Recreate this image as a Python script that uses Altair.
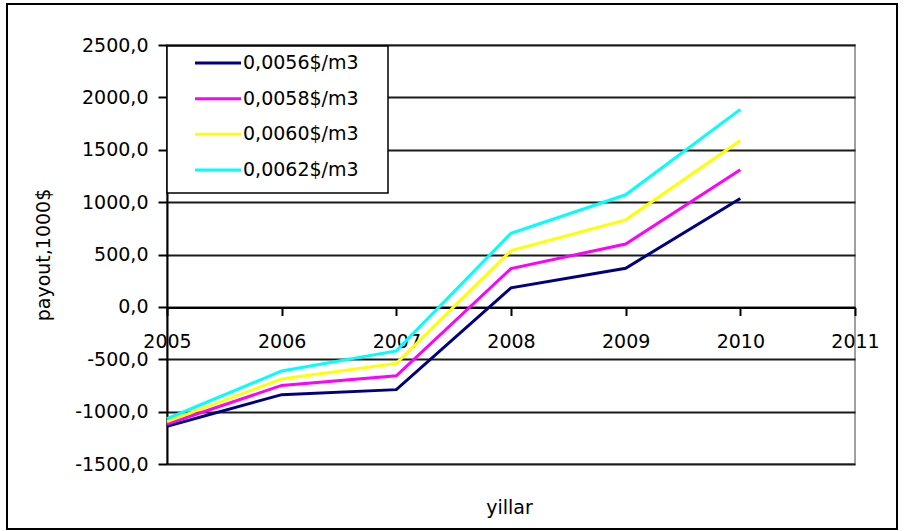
import altair as alt
import pandas as pd

# Cumulative payout (thousand $) by year for four unit prices
years = [2005, 2006, 2007, 2008, 2009, 2010]
p0056 = [-1140, -838, -790, 182, 369, 1035]
p0058 = [-1118, -750, -658, 366, 600, 1310]
p0060 = [-1095, -688, -540, 537, 831, 1588]
p0062 = [-1068, -612, -420, 703, 1070, 1885]

series_labels = ["0,0056$/m3", "0,0058$/m3", "0,0060$/m3", "0,0062$/m3"]
series_colors = ["#000080", "#ff00ff", "#ffff00", "#00ffff"]

y_ticks = [-1500, -1000, -500, 0, 500, 1000, 1500, 2000, 2500]
x_ticks = [2005, 2006, 2007, 2008, 2009, 2010, 2011]

FONT = "DejaVu Sans"
FS = 19
W, H = 688, 419

rows = []
for label, vals in zip(series_labels, [p0056, p0058, p0060, p0062]):
    for yr, v in zip(years, vals):
        rows.append({"yil": yr, "payout": v, "series": label})
df = pd.DataFrame(rows)
legend_df = pd.DataFrame({"series": series_labels})

color_scale = alt.Scale(domain=series_labels, range=series_colors)

lines = alt.Chart(df).mark_line(strokeWidth=3).encode(
    x=alt.X(
        "yil:Q",
        scale=alt.Scale(domain=[2005, 2011], nice=False, zero=False),
        axis=alt.Axis(
            values=x_ticks,
            format="d",
            offset=-156.5,
            grid=False,
            domainColor="#000000",
            domainWidth=2,
            tickColor="#000000",
            tickWidth=2,
            tickSize=8,
            labelPadding=17,
            labelFlush=False,
            labelOverlap=False,
            title="yillar",
            titleX=342,
            titleY=199.5,
            titleAnchor="start",
            titleAlign="center",
            titleBaseline="middle",
        ),
    ),
    y=alt.Y(
        "payout:Q",
        scale=alt.Scale(domain=[-1500, 2500], nice=False),
        axis=alt.Axis(
            values=y_ticks,
            # decimal comma and a plain hyphen for negatives
            labelExpr="replace(replace(format(datum.value, '.1f'), '.', ','), '\u2212', '-')",
            grid=True,
            gridColor="#1a1a1a",
            gridWidth=2,
            domainColor="#000000",
            domainWidth=2,
            tickColor="#000000",
            tickWidth=2,
            tickSize=9,
            labelPadding=10,
            title="payout,1000$",
            titleAngle=270,
            titleX=-124,
            titleY=H / 2,
            titleAlign="center",
            titleBaseline="middle",
        ),
    ),
    color=alt.Color("series:N", scale=color_scale, legend=None),
    order=alt.Order("yil:Q"),
)

# Legend box drawn inside the plot's top-left corner
legend_box = alt.Chart(alt.Data(values=[{}])).mark_rect(
    fill="white", stroke="#000000", strokeWidth=1.5
).encode(
    x=alt.value(0), x2=alt.value(221), y=alt.value(1), y2=alt.value(148)
)

legend_y = alt.Y(
    "series:N",
    scale=alt.Scale(domain=series_labels, range=[18, 125], type="point", padding=0),
    axis=None,
)

legend_lines = alt.Chart(legend_df).mark_rule(strokeWidth=3).encode(
    x=alt.value(28),
    x2=alt.value(74),
    y=legend_y,
    color=alt.Color("series:N", scale=color_scale, legend=None),
)

legend_text = alt.Chart(legend_df).mark_text(
    align="left", baseline="middle", font=FONT, fontSize=FS, color="#000000"
).encode(
    x=alt.value(76),
    y=legend_y,
    text="series:N",
)

# Outer frame around the whole figure
frame = alt.Chart(alt.Data(values=[{}])).mark_rect(
    fill=None, stroke="#000000", strokeWidth=2
).encode(
    x=alt.value(-160), x2=alt.value(730), y=alt.value(-41), y2=alt.value(484)
)

chart = (
    alt.layer(lines, legend_box, legend_lines, legend_text, frame)
    .resolve_scale(y="independent")
    .properties(
        width=W,
        height=H,
        autosize=alt.AutoSizeParams(type="none"),
        padding={"left": 167, "top": 45, "right": 50, "bottom": 67},
        background="white",
    )
    .configure_view(stroke="#a0a0a0", strokeWidth=2)
    .configure_axis(
        labelFont=FONT,
        labelFontSize=FS,
        labelColor="#000000",
        titleFont=FONT,
        titleFontSize=FS,
        titleFontWeight="normal",
        titleColor="#000000",
    )
)

chart.save("out.html", embed_options={"renderer": "svg", "actions": False})
